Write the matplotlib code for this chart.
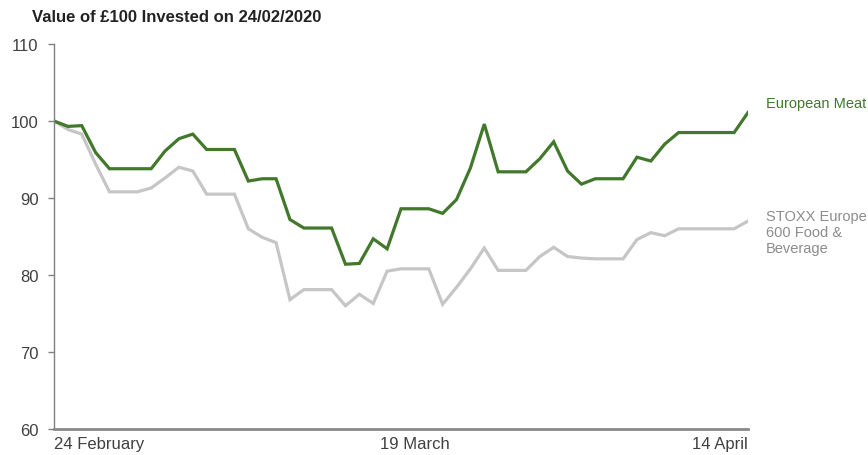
import matplotlib
matplotlib.use("Agg")
import matplotlib.pyplot as plt
import numpy as np

plt.rcParams['font.family'] = ['Liberation Sans', 'DejaVu Sans']

# value of £100 invested on 24/02/2020, one point per day
meat = [100.0, 99.3, 99.4, 95.9, 93.8, 93.8, 93.8, 93.8, 96.1, 97.7,
        98.3, 96.3, 96.3, 96.3, 92.2, 92.5, 92.5, 87.2, 86.1, 86.1,
        86.1, 81.4, 81.5, 84.7, 83.4, 88.6, 88.6, 88.6, 88.0, 89.8,
        93.9, 99.6, 93.4, 93.4, 93.4, 95.1, 97.3, 93.5, 91.8, 92.5,
        92.5, 92.5, 95.3, 94.8, 97.0, 98.5, 98.5, 98.5, 98.5, 98.5,
        101.1]
stoxx = [100.0, 98.9, 98.3, 94.4, 90.8, 90.8, 90.8, 91.3, 92.6, 94.0,
         93.5, 90.5, 90.5, 90.5, 86.0, 84.9, 84.2, 76.8, 78.1, 78.1,
         78.1, 76.0, 77.5, 76.3, 80.5, 80.8, 80.8, 80.8, 76.2, 78.4,
         80.8, 83.5, 80.6, 80.6, 80.6, 82.4, 83.6, 82.4, 82.2, 82.1,
         82.1, 82.1, 84.6, 85.5, 85.1, 86.0, 86.0, 86.0, 86.0, 86.0,
         87.0]
tick_pos = [0, 26, 50]
tick_labels = ['24 February', '19 March', '14 April']
yticks = [60, 70, 80, 90, 100, 110]

green = '#41782b'
grey = '#c6c6c6'
txt = '#404040'

fig = plt.figure(figsize=(8.68, 4.56), dpi=100)
ax = fig.add_axes([54/868, 26/456, 694/868, 385/456])

x = np.arange(len(meat))
ax.plot(x, stoxx, color=grey, lw=2.3, solid_joinstyle='miter')
ax.plot(x, meat, color=green, lw=2.3, solid_joinstyle='miter')

ax.set_xlim(0, 50)
ax.set_ylim(60, 110)
ax.set_yticks(yticks)
ax.set_yticklabels([str(v) for v in yticks])
ax.tick_params(axis='y', direction='out', length=4, width=1, color='#808080',
               labelsize=12, labelcolor=txt, pad=7)
ax.set_xticks(tick_pos)
ax.set_xticklabels(tick_labels)
ax.tick_params(axis='x', length=0, labelsize=12, labelcolor=txt, pad=5)
xl = ax.get_xticklabels()
xl[0].set_ha('left')
xl[2].set_ha('right')

for s in ['top', 'right']:
    ax.spines[s].set_visible(False)
ax.spines['left'].set_color('#808080')
ax.spines['left'].set_linewidth(1)
ax.spines['bottom'].set_color('#8a8a8a')
ax.spines['bottom'].set_linewidth(2)

ax.text(51.3, 102.3, 'European Meat', color=green, fontsize=10.5,
        va='center', ha='left', clip_on=False)
ax.text(51.3, 85.6, 'STOXX Europe\n600 Food &\nBeverage', color='#8c8c8c',
        fontsize=10.5, va='center', ha='left', linespacing=1.2, clip_on=False)

fig.text(32/868, 1 - 18/456, 'Value of £100 Invested on 24/02/2020',
         fontsize=12, fontweight='bold', color='#222222', va='center', ha='left')

fig.savefig('out.png', dpi=100)
